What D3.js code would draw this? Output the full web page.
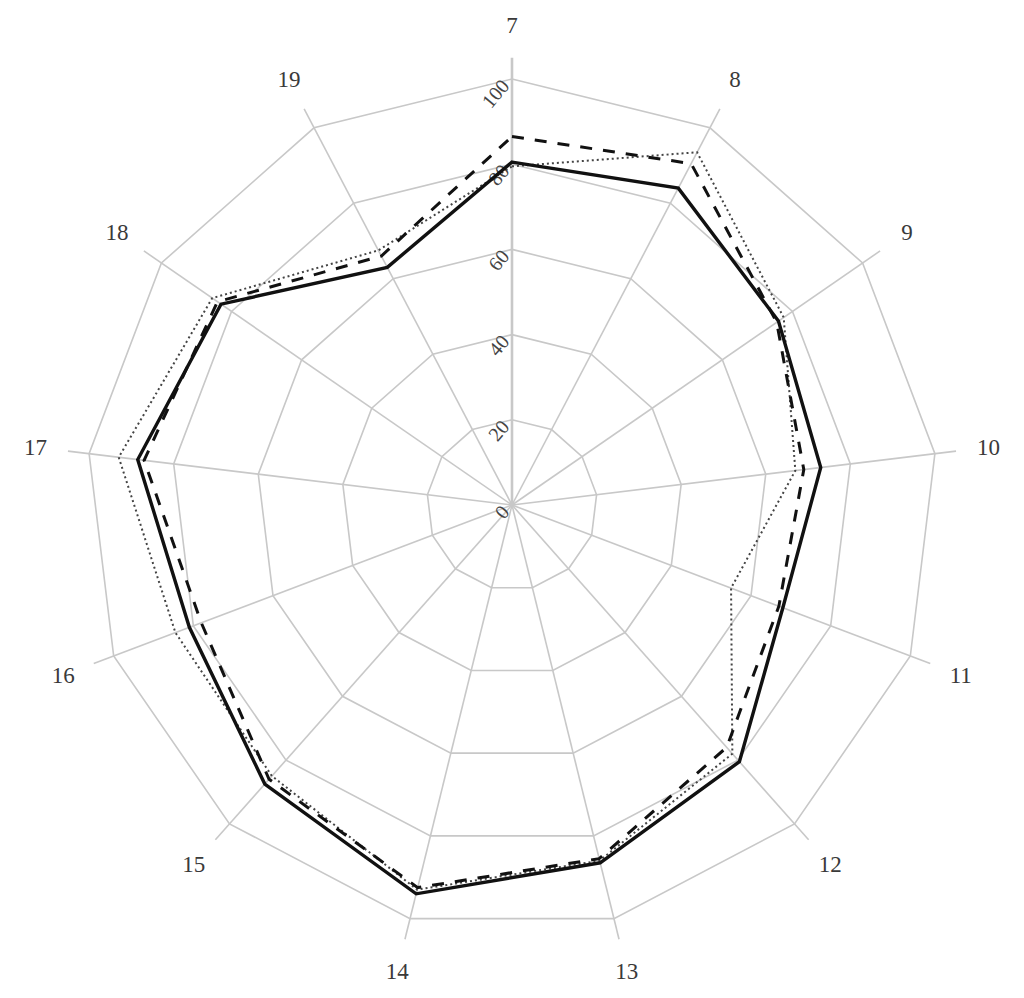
<!DOCTYPE html>
<html>
<head>
<meta charset="utf-8">
<script src="https://cdn.jsdelivr.net/npm/d3@7"></script>
<style>
  html, body { margin: 0; padding: 0; background: #fff; }
  svg { display: block; }
</style>
</head>
<body>
<svg id="chart" width="1024" height="998"></svg>
<script>
const categories = ["7","8","9","10","11","12","13","14","15","16","17","18","19"];
const seriesSolid  = [80.5, 84, 76, 73, 68, 80.5, 86.5, 94, 87.5, 81, 88.5, 83, 63];
const seriesDashed = [86.5, 90.5, 75.5, 69, 67, 76, 85.5, 92.5, 86, 78, 87, 84, 66];
const seriesDotted = [79.5, 93.5, 77.5, 67, 55, 78, 86, 93, 85, 84.5, 93, 85.5, 67.5];
const tickValues = [0, 20, 40, 60, 80, 100];
const gridValues = [20, 40, 60, 80, 100];

const svg = d3.select("#chart");
const cx = 512, cy = 505;
const R = 426;
const r = d3.scaleLinear().domain([0, 100]).range([0, R]);
const angle = d3.scalePoint().domain(categories).range([0, 2 * Math.PI * (categories.length - 1) / categories.length]);

const g = svg.append("g").attr("transform", `translate(${cx},${cy})`);

function pt(cat, v) {
  const a = angle(cat);
  return [Math.sin(a) * r(v), -Math.cos(a) * r(v)];
}

// grid rings
const ringLine = d3.line();
gridValues.forEach(v => {
  const pts = categories.map(c => pt(c, v));
  g.append("path")
    .attr("d", ringLine(pts) + "Z")
    .attr("fill", "none")
    .attr("stroke", "#c8c8c8")
    .attr("stroke-width", 1.6);
});

// spokes
categories.forEach(c => {
  const p = pt(c, 105);
  g.append("line")
    .attr("x1", 0).attr("y1", 0)
    .attr("x2", p[0]).attr("y2", p[1])
    .attr("stroke", "#c8c8c8")
    .attr("stroke-width", c === categories[0] ? 2.6 : 1.6);
});

// category labels
categories.forEach(c => {
  const a = angle(c);
  const rr = R + 54;
  g.append("text")
    .attr("x", Math.sin(a) * rr)
    .attr("y", -Math.cos(a) * rr)
    .attr("text-anchor", "middle")
    .attr("dominant-baseline", "central")
    .attr("font-family", "'Liberation Serif', 'Times New Roman', serif")
    .attr("font-size", 23)
    .attr("fill", "#3a3a3a")
    .text(c);
});

// tick labels along first axis
tickValues.forEach(v => {
  const p = pt(categories[0], v);
  const x = p[0] - 7, y = p[1] + 3;
  g.append("text")
    .attr("transform", `translate(${x},${y}) rotate(-50)`)
    .attr("text-anchor", "end")
    .attr("dominant-baseline", "central")
    .attr("font-family", "'Liberation Serif', 'Times New Roman', serif")
    .attr("font-size", 20)
    .attr("fill", "#444")
    .text(v);
});

const radial = d3.lineRadial()
  .angle((d, i) => angle(categories[i]))
  .radius(d => r(d))
  .curve(d3.curveLinearClosed);

g.append("path")
  .datum(seriesDotted)
  .attr("d", radial)
  .attr("fill", "none")
  .attr("stroke", "#444")
  .attr("stroke-width", 2)
  .attr("stroke-dasharray", "2,3");

g.append("path")
  .datum(seriesDashed)
  .attr("d", radial)
  .attr("fill", "none")
  .attr("stroke", "#111")
  .attr("stroke-width", 3)
  .attr("stroke-dasharray", "12,11");

g.append("path")
  .datum(seriesSolid)
  .attr("d", radial)
  .attr("fill", "none")
  .attr("stroke", "#111")
  .attr("stroke-width", 3.4)
  .attr("stroke-linejoin", "miter");
</script>
</body>
</html>
